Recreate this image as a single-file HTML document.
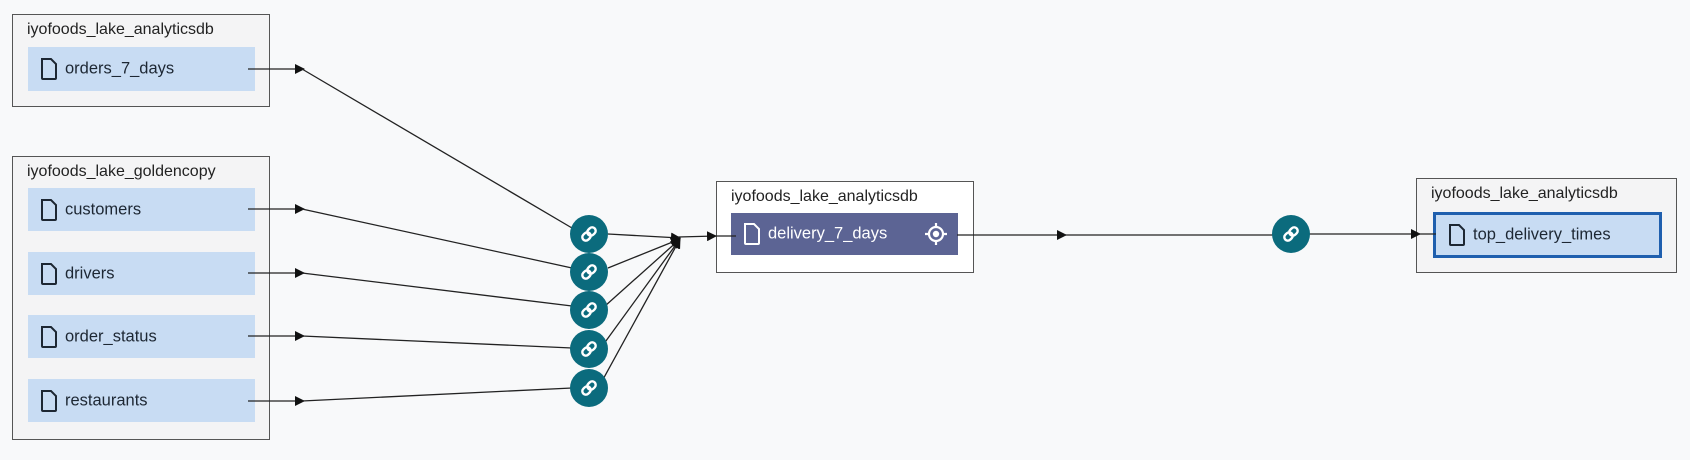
<!DOCTYPE html>
<html><head><meta charset="utf-8"><style>
html,body{margin:0;padding:0;background:#f8f9fa;width:1690px;height:460px;overflow:hidden;font-family:"Liberation Sans",sans-serif;}
.box{position:absolute;border:1.5px solid #555;background:#f4f4f5;box-sizing:border-box;}
.title{position:absolute;left:14px;top:6px;font-size:16px;color:#222;}
.row{position:absolute;background:#c8dcf3;box-sizing:border-box;font-size:16.5px;color:#1d2733;}
.row span{position:absolute;left:37px;top:50%;transform:translateY(-50%);}
.row svg.doc{position:absolute;left:12px;top:50%;transform:translateY(-50%);}
</style></head><body>
<div class="box" style="left:12px;top:14px;width:258px;height:93px;">
 <div class="title">iyofoods_lake_analyticsdb</div>
 <div class="row" style="left:15px;top:32px;width:227px;height:44px;"><svg class="doc" width="18" height="22" viewBox="0 0 18 22"><path d="M2 1h9l5 5v14a1 1 0 0 1-1 1H3a1 1 0 0 1-1-1z" fill="none" stroke="#1d2733" stroke-width="2"/></svg><span>orders_7_days</span></div>
</div>
<div class="box" style="left:12px;top:156px;width:258px;height:284px;">
 <div class="title">iyofoods_lake_goldencopy</div>
 <div class="row" style="left:15px;top:31px;width:227px;height:43px;"><svg class="doc" width="18" height="22" viewBox="0 0 18 22"><path d="M2 1h9l5 5v14a1 1 0 0 1-1 1H3a1 1 0 0 1-1-1z" fill="none" stroke="#1d2733" stroke-width="2"/></svg><span>customers</span></div>
 <div class="row" style="left:15px;top:95px;width:227px;height:43px;"><svg class="doc" width="18" height="22" viewBox="0 0 18 22"><path d="M2 1h9l5 5v14a1 1 0 0 1-1 1H3a1 1 0 0 1-1-1z" fill="none" stroke="#1d2733" stroke-width="2"/></svg><span>drivers</span></div>
 <div class="row" style="left:15px;top:158px;width:227px;height:43px;"><svg class="doc" width="18" height="22" viewBox="0 0 18 22"><path d="M2 1h9l5 5v14a1 1 0 0 1-1 1H3a1 1 0 0 1-1-1z" fill="none" stroke="#1d2733" stroke-width="2"/></svg><span>order_status</span></div>
 <div class="row" style="left:15px;top:222px;width:227px;height:43px;"><svg class="doc" width="18" height="22" viewBox="0 0 18 22"><path d="M2 1h9l5 5v14a1 1 0 0 1-1 1H3a1 1 0 0 1-1-1z" fill="none" stroke="#1d2733" stroke-width="2"/></svg><span>restaurants</span></div>
</div>
<div class="box" style="left:716px;top:181px;width:258px;height:92px;background:#fff;">
 <div class="title">iyofoods_lake_analyticsdb</div>
 <div class="row" style="left:14px;top:31px;width:227px;height:42px;background:#5c6494;color:#fff;"><svg class="doc" width="18" height="22" viewBox="0 0 18 22"><path d="M2 1h9l5 5v14a1 1 0 0 1-1 1H3a1 1 0 0 1-1-1z" fill="none" stroke="#fff" stroke-width="2"/></svg><span>delivery_7_days</span>
 <svg style="position:absolute;right:10px;top:9px" width="24" height="24" viewBox="0 0 24 24"><circle cx="12" cy="12" r="7" fill="none" stroke="#fff" stroke-width="2.2"/><circle cx="12" cy="12" r="3.2" fill="#fff"/><path d="M12 1v4M12 19v4M1 12h4M19 12h4" stroke="#fff" stroke-width="2.2"/></svg></div>
</div>
<div class="box" style="left:1416px;top:178px;width:261px;height:95px;">
 <div class="title">iyofoods_lake_analyticsdb</div>
 <div class="row" style="left:16px;top:33px;width:229px;height:46px;border:3px solid #1f5fae;"><svg class="doc" width="18" height="22" viewBox="0 0 18 22"><path d="M2 1h9l5 5v14a1 1 0 0 1-1 1H3a1 1 0 0 1-1-1z" fill="none" stroke="#1d2733" stroke-width="2"/></svg><span>top_delivery_times</span></div>
</div>
<svg width="1690" height="460" style="position:absolute;left:0;top:0">
<defs><marker id="a" markerWidth="10" markerHeight="10" refX="9" refY="5" orient="auto" markerUnits="userSpaceOnUse"><path d="M0 0L10 5L0 10z" fill="#111"/></marker>
<g id="lk"><circle r="19" fill="#0b6b7d"/><g fill="none" stroke="#fff" stroke-width="2.4" transform="rotate(-45)"><rect x="-8" y="-3.5" width="9" height="7" rx="3.5"/><rect x="-1" y="-3.5" width="9" height="7" rx="3.5"/></g></g></defs>
<g stroke="#222" stroke-width="1.3" fill="none">
<line x1="248" y1="69" x2="304" y2="69" marker-end="url(#a)"/>
<line x1="248" y1="209" x2="304" y2="209" marker-end="url(#a)"/>
<line x1="248" y1="273" x2="304" y2="273" marker-end="url(#a)"/>
<line x1="248" y1="336" x2="304" y2="336" marker-end="url(#a)"/>
<line x1="248" y1="401" x2="304" y2="401" marker-end="url(#a)"/>
<line x1="302" y1="69" x2="572" y2="228"/>
<line x1="302" y1="209" x2="572" y2="268"/>
<line x1="302" y1="273" x2="572" y2="306"/>
<line x1="302" y1="336" x2="572" y2="348"/>
<line x1="302" y1="401" x2="572" y2="388"/>
<line x1="608" y1="234" x2="680" y2="238" marker-end="url(#a)"/>
<line x1="608" y1="268" x2="680" y2="239" marker-end="url(#a)"/>
<line x1="605" y1="306" x2="680" y2="239" marker-end="url(#a)"/>
<line x1="603" y1="345" x2="680" y2="239" marker-end="url(#a)"/>
<line x1="601" y1="383" x2="680" y2="239" marker-end="url(#a)"/>
<line x1="678" y1="237" x2="716" y2="236" marker-end="url(#a)"/>
<line x1="716" y1="236" x2="736" y2="236"/>
<line x1="957" y1="235" x2="1066" y2="235" marker-end="url(#a)"/>
<line x1="1064" y1="235" x2="1300" y2="235"/>
<line x1="1300" y1="234" x2="1420" y2="234" marker-end="url(#a)"/>
<line x1="1418" y1="234" x2="1436" y2="234"/>
</g>
<use href="#lk" x="589" y="234"/>
<use href="#lk" x="589" y="272"/>
<use href="#lk" x="589" y="310"/>
<use href="#lk" x="589" y="349"/>
<use href="#lk" x="589" y="388"/>
<use href="#lk" x="1291" y="234"/>
</svg>
</body></html>
